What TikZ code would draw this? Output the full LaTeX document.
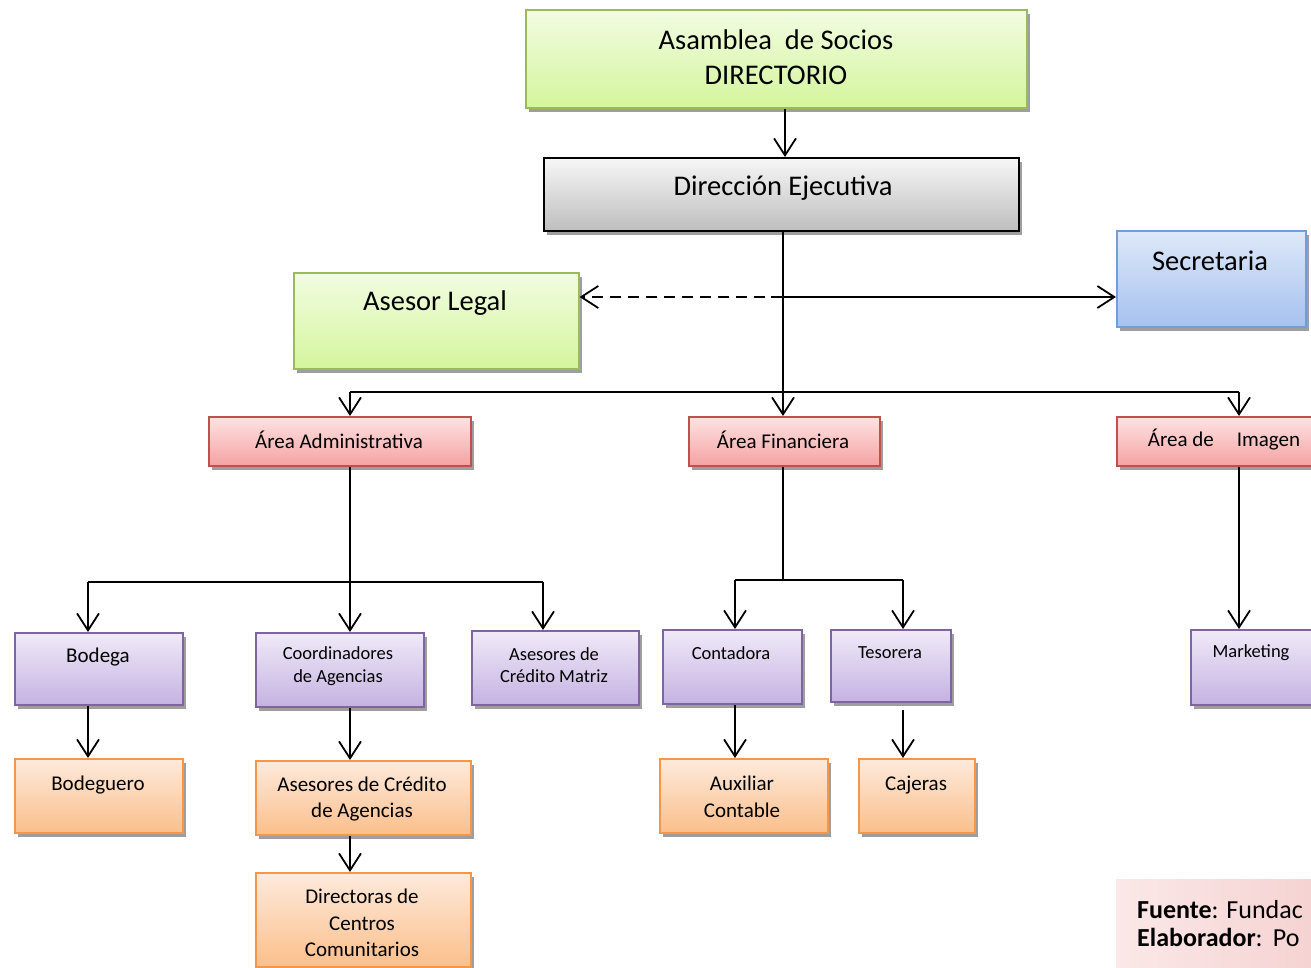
\documentclass[tikz,border=0pt]{standalone}
\usepackage{fontspec}
\setmainfont{Carlito}
\usetikzlibrary{arrows.meta,shadows}

\definecolor{grnT}{HTML}{F2FCE2}\definecolor{grnB}{HTML}{D4F59C}\definecolor{grnD}{HTML}{9BBB59}
\definecolor{gryT}{HTML}{F7F7F7}\definecolor{gryB}{HTML}{BEBEBE}
\definecolor{bluT}{HTML}{DEE8F9}\definecolor{bluB}{HTML}{A6C2EF}\definecolor{bluD}{HTML}{6F9FD8}
\definecolor{redT}{HTML}{FEE3E3}\definecolor{redB}{HTML}{F5A2A2}\definecolor{redD}{HTML}{C0504D}
\definecolor{purT}{HTML}{F0EAF8}\definecolor{purB}{HTML}{C5B2E2}\definecolor{purD}{HTML}{8064A2}
\definecolor{orgT}{HTML}{FEEADC}\definecolor{orgB}{HTML}{FBBF8B}\definecolor{orgD}{HTML}{F79646}
\definecolor{pnkT}{HTML}{FBE8E8}\definecolor{pnkB}{HTML}{F5D0D0}

\begin{document}
\begin{tikzpicture}[x=1pt,y=-1pt,
  box/.style={rectangle, inner sep=0pt, line width=1.6pt, anchor=north west,
    drop shadow={shadow xshift=3pt,shadow yshift=-4pt,fill=black!38,opacity=1}},
  grnbox/.style={box, draw=grnD, top color=grnT, bottom color=grnB},
  grybox/.style={box, draw=black, top color=gryT, bottom color=gryB},
  blubox/.style={box, draw=bluD, top color=bluT, bottom color=bluB},
  redbox/.style={box, draw=redD, top color=redT, bottom color=redB},
  purbox/.style={box, draw=purD, top color=purT, bottom color=purB},
  orgbox/.style={box, draw=orgD, top color=orgT, bottom color=orgB},
  lblL/.style={inner sep=0pt, align=center, font=\fontsize{28.5}{35}\selectfont},
  lblM/.style={inner sep=0pt, align=center, font=\fontsize{21}{26.5}\selectfont},
  lblS/.style={inner sep=0pt, align=center, font=\fontsize{18.5}{22.5}\selectfont},
  conn/.style={line width=1.8pt},
  arr/.style={conn, -{Straight Barb[length=17pt,width=22pt,line width=1.8pt]}}
]
\useasboundingbox (0,0) rectangle (1311,968);
\clip (0,0) rectangle (1311,968);

% --- top levels ---
\node[grnbox, minimum width=501pt, minimum height=98pt] (asm) at (525,9) {};
\node[lblL] (asmT) at (776,57) {Asamblea\ \ de Socios\\DIRECTORIO};
\node[grybox, minimum width=475pt, minimum height=73pt] (dir) at (543,157) {};
\node[lblL] (dirT) at (783,188) {Dirección Ejecutiva};
\node[grnbox, minimum width=285pt, minimum height=96pt] (legal) at (293,272) {};
\node[lblL] (legalT) at (435,303) {Asesor Legal};
\node[blubox, minimum width=189pt, minimum height=96pt] (sec) at (1116,230) {};
\node[lblL] (secT) at (1210,261) {Secretaria};

% --- areas ---
\node[redbox, minimum width=262pt, minimum height=49pt] (adm) at (208,416) {};
\node[lblM] (admT) at (339,440) {Área Administrativa};
\node[redbox, minimum width=191pt, minimum height=49pt] (fin) at (688,416) {};
\node[lblM] (finT) at (783,440) {Área Financiera};
\node[redbox, minimum width=214pt, minimum height=49pt] (img) at (1116,416) {};
\node[lblM] (imgT) at (1224,440) {Área de\hspace{23pt}Imagen};

% --- units ---
\node[purbox, minimum width=168pt, minimum height=72pt] (bod) at (14,632) {};
\node[lblM] (bodT) at (98,657) {Bodega};
\node[purbox, minimum width=168pt, minimum height=74pt] (coo) at (255,632) {};
\node[lblS] (cooT) at (338,666) {Coordinadores\\de Agencias};
\node[purbox, minimum width=167pt, minimum height=74pt] (acm) at (471,630) {};
\node[lblS] (acmT) at (554,665) {Asesores de\\Crédito Matriz};
\node[purbox, minimum width=139pt, minimum height=74pt] (con) at (662,629) {};
\node[lblS] (conT) at (731,653) {Contadora};
\node[purbox, minimum width=120pt, minimum height=72pt] (tes) at (830,629) {};
\node[lblS] (tesT) at (890,653) {Tesorera};
\node[purbox, minimum width=140pt, minimum height=75pt] (mkt) at (1190,629) {};
\node[lblS] (mktT) at (1251,653) {Marketing};

% --- staff ---
\node[orgbox, minimum width=168pt, minimum height=74pt] (bdq) at (14,758) {};
\node[lblM] (bdqT) at (98,785) {Bodeguero};
\node[orgbox, minimum width=215pt, minimum height=74pt] (aca) at (255,760) {};
\node[lblM] (acaT) at (362,799) {Asesores de Crédito\\de Agencias};
\node[orgbox, minimum width=215pt, minimum height=94pt] (dcc) at (255,872) {};
\node[lblM] (dccT) at (362,923) {Directoras de\\Centros\\Comunitarios};
\node[orgbox, minimum width=168pt, minimum height=74pt] (aux) at (659,758) {};
\node[lblM] (auxT) at (742,797) {Auxiliar\\Contable};
\node[orgbox, minimum width=116pt, minimum height=74pt] (caj) at (858,758) {};
\node[lblM] (cajT) at (916,785) {Cajeras};

% --- source note ---
\node[rectangle, inner sep=0pt, anchor=north west, minimum width=220pt, minimum height=100pt,
  left color=pnkT, right color=pnkB] (fte) at (1116,879) {};
\node[inner sep=0pt, anchor=west, align=left, font=\fontsize{26}{28}\selectfont] (fteT) at (1137,924)
  {\textbf{Fuente}: Fundac\\\textbf{Elaborador}:\ \,Po};

% --- connector joints ---
\coordinate (tr) at (783,0);
\coordinate (tr2) at (785,0);
\coordinate (side) at (783,297);
\coordinate (cA) at (350,392);
\coordinate (cI) at (1239,392);
\coordinate (aL) at (88,582);
\coordinate (aB) at (350,582);
\coordinate (aR) at (543,582);
\coordinate (fL) at (735,580);
\coordinate (fB) at (783,580);
\coordinate (fR) at (903,580);

% --- connectors ---
\draw[arr] (asm.south -| tr2) -- (dir.north -| tr2);
\draw[arr] (dir.south -| tr) -- (fin.north -| tr);
\draw[arr, dash pattern=on 11pt off 7pt] (side) -- (legal.east |- side);
\draw[arr] ([xshift=-12pt]side) -- (sec.west |- side);
\draw[conn] (cA) -- (cI);
\draw[arr] (cA) -- (adm.north -| cA);
\draw[arr] (cI) -- (img.north -| cI);

\draw[conn] (adm.south -| aB) -- (aB);
\draw[conn] (aL) -- (aR);
\draw[arr] (aL) -- (bod.north -| aL);
\draw[arr] (aB) -- (coo.north -| aB);
\draw[arr] (aR) -- (acm.north -| aR);

\draw[conn] (fin.south -| fB) -- (fB);
\draw[conn] (fL) -- (fR);
\draw[arr] (fL) -- (con.north -| fL);
\draw[arr] (fR) -- (tes.north -| fR);

\draw[arr] (img.south -| cI) -- (mkt.north -| cI);

\draw[arr] (bod.south -| aL) -- (bdq.north -| aL);
\draw[arr] (coo.south -| aB) -- (aca.north -| aB);
\draw[arr] (aca.south -| aB) -- (dcc.north -| aB);
\draw[arr] (con.south -| fL) -- (aux.north -| fL);
\draw[arr] ([yshift=-7pt]tes.south -| fR) -- (caj.north -| fR);
\end{tikzpicture}
\end{document}
